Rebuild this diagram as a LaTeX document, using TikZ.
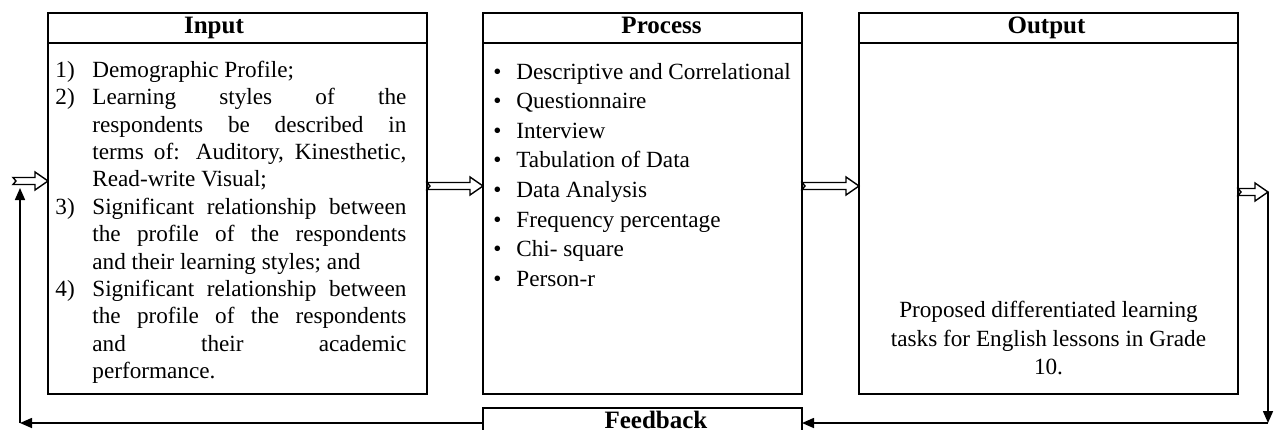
\documentclass[tikz,border=0pt]{standalone}
\usepackage{fontspec}
\setmainfont{Liberation Serif}
\usetikzlibrary{shapes,arrows.meta,positioning,calc}

% Voce numerata con rientro sospeso
\newcommand{\voce}[2]{\hangindent=18.5pt\hangafter=1\noindent\makebox[18.5pt][l]{#1}#2\par}
% Punto elenco
\newcommand{\punto}{\makebox[11.5pt][l]{\textbullet}}

\tikzset{
    head/.style={draw, line width=1pt, outer sep=0pt, inner sep=0pt, minimum height=15pt},
    headtext/.style={inner sep=0pt, text height=8.5pt, text depth=3pt,
        font=\bfseries\fontsize{12.5}{15}\selectfont},
    panel/.style={draw, line width=1pt, outer sep=0pt, inner sep=0pt, minimum height=175.5pt},
    hollow/.style={line width=0.7pt, to path={let \p1=(\tikztostart), \p2=(\tikztotarget) in
        (\x1,\y1+1.75pt) -- (\x2-6.5pt,\y1+1.75pt) -- (\x2-6.5pt,\y1+4.5pt) -- (\x2,\y1)
        -- (\x2-6.5pt,\y1-4.5pt) -- (\x2-6.5pt,\y1-1.75pt) -- (\x1,\y1-1.75pt)
        -- (\x1+1.5pt,\y1) -- cycle}},
    loopline/.style={line width=0.8pt, -{Triangle[length=6pt,width=5pt]}}
}

\begin{document}
\begin{tikzpicture}[x=0.5pt,y=-0.5pt]
    \useasboundingbox (0,0) rectangle (1274,429);

    % Intestazioni e riquadri
    \node[head, minimum width=189.5pt, label={[headtext, xshift=-11.75pt]center:Input}] (inhead) at (237.5,28) {};
    \node[panel, minimum width=189.5pt, below=0pt of inhead] (inbox) {};

    \node[head, minimum width=159.5pt, label={[headtext, xshift=9.5pt]center:Process}] (prohead) at (642.5,28) {};
    \node[panel, minimum width=159.5pt, below=0pt of prohead] (probox) {};

    \node[head, minimum width=189.5pt, label={[headtext, xshift=-1pt]center:Output}] (outhead) at (1048.5,28) {};
    \node[panel, minimum width=189.5pt, below=0pt of outhead] (outbox) {};

    \node[head, minimum width=159.5pt, label={[headtext, xshift=6.75pt]center:Feedback}] (fb) at (642.5,423) {};

    % Testo degli input
    \node[anchor=north west, inner sep=0pt, text width=175.5pt, align=justify,
        font=\fontsize{11.6}{13.7}\selectfont] (intext) at (55,60.5) {\tolerance=10000
        \voce{1)}{Demographic Profile;}
        \voce{2)}{Learning styles of the\linebreak respondents be described in\linebreak
            terms of: Auditory, Kinesthetic,\linebreak Read-write Visual;}
        \voce{3)}{Significant relationship between\linebreak the profile of the respondents\linebreak
            and their learning styles; and}
        \voce{4)}{Significant relationship between\linebreak the profile of the respondents\linebreak
            and their academic\linebreak performance.}};

    % Elenco del processo
    \node[anchor=north west, inner sep=0pt, align=left,
        font=\fontsize{11.6}{14.8}\selectfont] (protext) at (493,62.5) {
        \punto Descriptive and Correlational\\
        \punto Questionnaire\\
        \punto Interview\\
        \punto Tabulation of Data\\
        \punto Data Analysis\\
        \punto Frequency percentage\\
        \punto Chi- square\\
        \punto Person-r};

    % Risultato atteso
    \node[anchor=north, inner sep=0pt, align=center,
        font=\fontsize{11.6}{14.25}\selectfont] (outtext) at (1048.5,301) {
        Proposed differentiated learning\\
        tasks for English lessons in Grade\\
        10.};

    % Frecce tra i blocchi
    \coordinate (ingresso) at (13,181);
    \coordinate (uscita) at (1268,192);
    \draw[hollow] (ingresso) to (inbox.west |- ingresso);
    \draw[hollow] (inbox.east |- 0,186) to (probox.west |- 0,186);
    \draw[hollow] (probox.east |- 0,186) to (outbox.west |- 0,186);
    \draw[hollow] (outbox.east |- uscita) to (uscita);

    % Anello di retroazione
    \coordinate (angolodx) at (1268,423);
    \coordinate (angolosx) at (20,423);
    \coordinate (ritorno) at (20,188);
    \draw[loopline] (uscita) -- (angolodx);
    \draw[loopline] (angolodx) -- (fb.east);
    \draw[loopline] (fb.west) -- (angolosx);
    \draw[loopline] (angolosx) -- (ritorno);
\end{tikzpicture}
\end{document}
